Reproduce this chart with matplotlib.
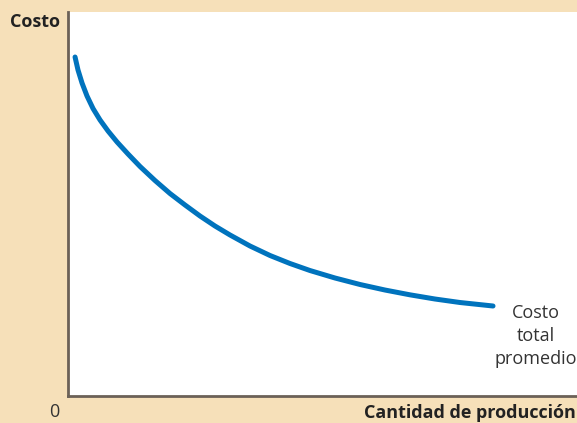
import matplotlib
matplotlib.use("Agg")
import matplotlib.pyplot as plt

cantidad = [0.138, 0.196, 0.275, 0.373, 0.491, 0.629, 0.786, 0.963, 1.179, 1.415,
            1.709, 2.004, 2.299, 2.593, 2.888, 3.183, 3.576, 3.969, 4.361, 4.754,
            5.246, 5.737, 6.228, 6.719, 7.210, 7.701, 8.350]
costo = [8.828, 8.490, 8.151, 7.813, 7.487, 7.188, 6.901, 6.615, 6.302, 5.977,
         5.612, 5.273, 4.974, 4.688, 4.427, 4.193, 3.906, 3.659, 3.451, 3.268,
         3.073, 2.904, 2.760, 2.635, 2.526, 2.435, 2.344]

beige = "#F6E0B9"
azul = "#0073BD"

plt.rcParams['font.family'] = ['Open Sans', 'DejaVu Sans']

fig = plt.figure(figsize=(5.77, 4.23), dpi=100, facecolor=beige)
ax = fig.add_axes([0.1179, 0.0638, 0.8821, 0.9078])
ax.set_facecolor("white")
ax.plot(cantidad, costo, color=azul, lw=3.6, solid_capstyle="round", solid_joinstyle="round")
ax.set_xlim(0, 10)
ax.set_ylim(0, 10)
ax.set_xticks([]), ax.set_yticks([])
for s in ["top", "right"]:
    ax.spines[s].set_visible(False)
for s in ["left", "bottom"]:
    ax.spines[s].set_color("#6b6157")
    ax.spines[s].set_linewidth(2)

fig.text(0.018, 0.948, "Costo", fontsize=13, fontweight="bold", color="#222222", va="center")
fig.text(0.085, 0.026, "0", fontsize=13, color="#333333", va="center")
fig.text(0.998, 0.024, "Cantidad de producción", fontsize=13, fontweight="bold",
         color="#222222", ha="right", va="center")
fig.text(0.929, 0.205, "Costo\ntotal\npromedio", fontsize=13, color="#333333",
         ha="center", va="center", linespacing=1.35)

fig.savefig("out.png", dpi=100, facecolor=beige)
